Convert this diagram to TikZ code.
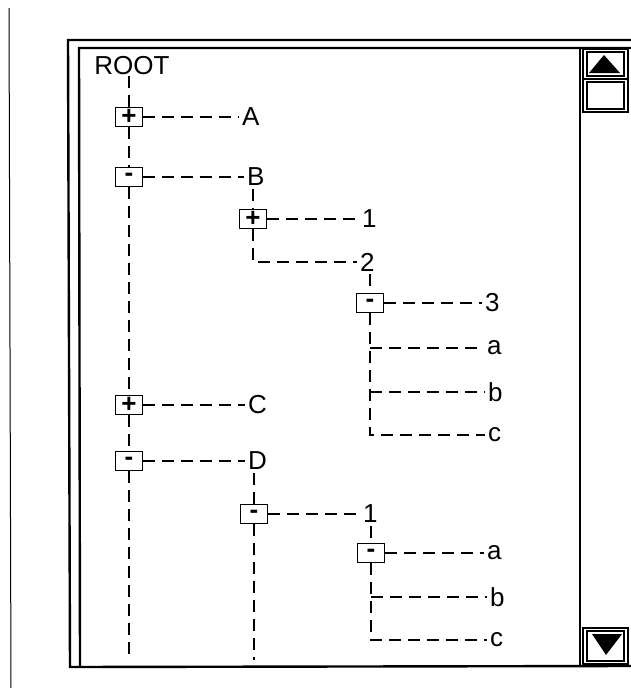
\documentclass[tikz,border=0pt]{standalone}
\usepackage{fontspec}
\setmainfont{Liberation Sans}
\tikzset{
  tline/.style={line width=1.6pt, dash pattern=on 12pt off 7pt},
  tbox/.style={draw, line width=1.7pt, minimum width=27pt, minimum height=19pt, inner sep=0pt, font=\fontsize{26}{26}\selectfont\bfseries},
  lbl/.style={anchor=west, inner sep=3pt, font=\fontsize{26}{26}\selectfont},
  frame/.style={line width=2.4pt},
}
\begin{document}
\begin{tikzpicture}[x=1pt, y=-1pt]
  \useasboundingbox (0,0) rectangle (631,688);
  % === window frame ===
  \draw[line width=1pt] (9,8) -- (11,688);
  \draw[frame] (631,40) -- (68,40) -- (70,667) -- (631,666);
  \draw[frame] (631,48) -- (79,48) -- (80,666);
  % scroll bar
  \draw[frame] (580,48) -- (580,666);
  \draw[line width=2pt] (583,49) rectangle (628,79);
  \draw[line width=1.2pt] (587,52) rectangle (624,76);
  \fill (589,73) -- (604,55) -- (620,73) -- cycle;
  \draw[line width=2pt] (583,79) rectangle (628,112);
  \draw[line width=1.2pt] (587,82) rectangle (624,109);
  \draw[line width=2pt] (583,628) rectangle (628,664);
  \draw[line width=1.2pt] (587,631) rectangle (624,661);
  \fill (592,634) -- (622,634) -- (606,655) -- cycle;

  % === tree ===
  \node[lbl, anchor=center, inner sep=1pt] (root) at (132,66) {ROOT};
  \node[tbox] (bA) at (129,117) {+};
  \node[lbl] (A) at (239,117) {A};
  \node[tbox] (bB) at (129,177) {-};
  \node[lbl] (B) at (244,177) {B};
  \node[tbox] (bC) at (129,405) {+};
  \node[lbl] (C) at (245,405) {C};
  \node[tbox] (bD) at (129,461) {-};
  \node[lbl] (D) at (245,461) {D};
  \coordinate (rootEnd) at (129,657);

  % B branch
  \node[tbox] (bB1) at (253,219) {+};
  \node[lbl] (B1) at (359,219) {1};
  \coordinate (cB2) at (253,262);
  \node[lbl] (B2) at (357,262) {2};
  \node[tbox] (bB3) at (370,303) {-};
  \node[lbl] (B3) at (482,303) {3};
  \coordinate (cBa) at (370,348);
  \node[lbl] (Ba) at (484,348) {a};
  \coordinate (cBb) at (370,392);
  \node[lbl] (Bb) at (485,392) {b};
  \coordinate (cBc) at (370,435);
  \node[lbl] (Bc) at (485,435) {c};

  % D branch
  \node[tbox] (bD1) at (254,514) {-};
  \node[lbl] (D1) at (360,514) {1};
  \coordinate (dEnd) at (254,660);
  \node[tbox] (bD1a) at (371,553) {-};
  \node[lbl] (Da) at (484,553) {a};
  \coordinate (cDb) at (371,597);
  \node[lbl] (Db) at (487,597) {b};
  \coordinate (cDc) at (371,640);
  \node[lbl] (Dc) at (487,640) {c};

  % connectors
  \draw[tline] (root.south -| bA) -- (bA) -- (bB) -- (bC) -- (bD) -- (rootEnd);
  \draw[tline] (bA) -- (A);
  \draw[tline] (bB) -- (B);
  \draw[tline] (bC) -- (C);
  \draw[tline] (bD) -- (D);
  \draw[tline] (B.south -| bB1) -- (bB1) -- (cB2) -- (B2);
  \draw[tline] (bB1) -- (B1);
  \draw[tline] (B2.south -| bB3) -- (bB3) -- (cBc) -- (Bc);
  \draw[tline] (bB3) -- (B3);
  \draw[tline] (cBa) -- (Ba);
  \draw[tline] (cBb) -- (Bb);
  \draw[tline] (D.south -| bD1) -- (bD1) -- (dEnd);
  \draw[tline] (bD1) -- (D1);
  \draw[tline] (D1.south -| bD1a) -- (bD1a) -- (cDc) -- (Dc);
  \draw[tline] (bD1a) -- (Da);
  \draw[tline] (cDb) -- (Db);
\end{tikzpicture}
\end{document}
